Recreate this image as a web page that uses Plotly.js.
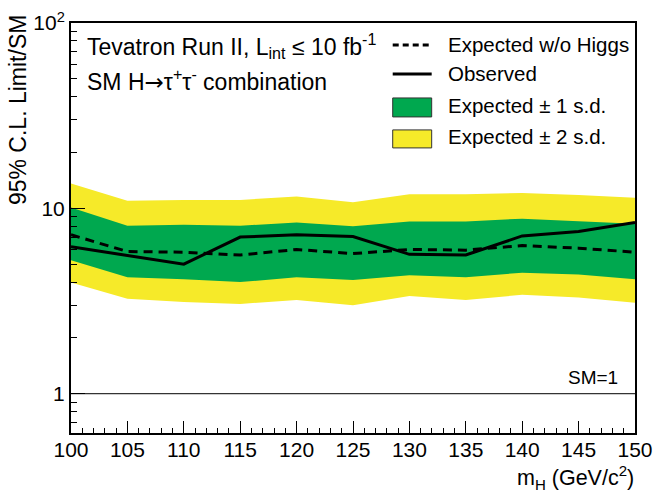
<!DOCTYPE html>
<html>
<head>
<meta charset="utf-8">
<script src="https://cdn.plot.ly/plotly-3.0.1.min.js"></script>
<style>html,body{margin:0;padding:0;background:#fff;}#chart{width:655px;height:493px;}</style>
</head>
<body>
<div id="chart"></div>
<script>
// Higgs mass points (GeV/c^2)
const massPoints = [100, 105, 110, 115, 120, 125, 130, 135, 140, 145, 150];
// 95% C.L. limit / SM
const yellowUpper = [13.6, 11.0, 11.1, 11.1, 11.6, 10.8, 11.9, 11.9, 12.1, 11.8, 11.4];
const greenUpper  = [10.1, 8.05, 8.15, 8.05, 8.4, 8.0, 8.5, 8.5, 8.8, 8.55, 8.25];
const expectedNoHiggs = [7.2, 5.85, 5.8, 5.6, 6.0, 5.7, 6.0, 5.95, 6.3, 6.1, 5.8];
const observed    = [6.2, 5.55, 5.0, 7.0, 7.2, 7.05, 5.65, 5.6, 7.1, 7.5, 8.4];
const greenLower  = [5.25, 4.25, 4.15, 4.0, 4.25, 4.1, 4.35, 4.25, 4.5, 4.4, 4.15];
const yellowLower = [3.98, 3.25, 3.12, 3.05, 3.2, 3.0, 3.37, 3.2, 3.42, 3.3, 3.1];
const xTickVals = [100, 105, 110, 115, 120, 125, 130, 135, 140, 145, 150];
const yTickVals = [1, 10, 100];
const yTickText = ['1', '10', '10<sup>2</sup>'];
const yMinorVals = [0.7, 0.8, 0.9, 2, 3, 4, 5, 6, 7, 8, 9, 20, 30, 40, 50, 60, 70, 80, 90];
const smLevel = 1;

const GREEN = '#00a84f';
const YELLOW = '#f6ea29';
const FONT = 'Liberation Sans, Arial, Helvetica, sans-serif';

const traces = [
  {x: massPoints, y: yellowLower, mode: 'lines', line: {width: 0, color: YELLOW}, showlegend: false, hoverinfo: 'skip'},
  {x: massPoints, y: yellowUpper, mode: 'lines', line: {width: 0, color: YELLOW}, fill: 'tonexty', fillcolor: YELLOW, showlegend: false},
  {x: massPoints, y: greenLower, mode: 'lines', line: {width: 0, color: GREEN}, showlegend: false, hoverinfo: 'skip'},
  {x: massPoints, y: greenUpper, mode: 'lines', line: {width: 0, color: GREEN}, fill: 'tonexty', fillcolor: GREEN, showlegend: false},
  {x: massPoints, y: expectedNoHiggs, mode: 'lines', line: {width: 3, color: '#000', dash: '9px,6px'}, showlegend: false},
  {x: massPoints, y: observed, mode: 'lines', line: {width: 3, color: '#000'}, showlegend: false}
];

const L = 71, T = 23, W = 564.5, H = 410.3;
const px = v => (v - L) / W;
const py = v => 1 - (v - T) / H;

const layout = {
  width: 655, height: 493,
  margin: {l: L, r: 655 - L - W, t: T, b: 493 - T - H, pad: 0},
  paper_bgcolor: '#fff', plot_bgcolor: '#fff',
  font: {family: FONT, size: 20, color: '#000'},
  showlegend: false,
  xaxis: {
    range: [100, 150], tickvals: xTickVals, ticks: 'inside', ticklen: 12, tickwidth: 1, tickcolor: '#000',
    ticklabelstandoff: -3,
    showline: true, linewidth: 2, linecolor: '#000', mirror: true, showgrid: false, zeroline: false,
    tickfont: {size: 21, family: FONT},
    minor: {dtick: 1, tick0: 100, ticks: 'inside', ticklen: 5, tickwidth: 1, tickcolor: '#000', showgrid: false}
  },
  yaxis: {
    type: 'log', range: [-0.212, 2], tickvals: yTickVals, ticktext: yTickText,
    ticks: 'inside', ticklen: 14, tickwidth: 1, tickcolor: '#000',
    showline: true, linewidth: 2, linecolor: '#000', mirror: true, showgrid: false, zeroline: false,
    tickfont: {size: 21, family: FONT},
    minor: {tickmode: 'array', tickvals: yMinorVals, ticks: 'inside', ticklen: 6, tickwidth: 1, tickcolor: '#000', showgrid: false}
  },
  shapes: [
    {type: 'line', xref: 'paper', yref: 'y', x0: 0, x1: 1, y0: smLevel, y1: smLevel, line: {color: '#000', width: 1}},
    {type: 'line', xref: 'paper', yref: 'paper', x0: px(393), x1: px(432), y0: py(45), y1: py(45), line: {color: '#000', width: 3, dash: '6px,4px'}},
    {type: 'line', xref: 'paper', yref: 'paper', x0: px(393), x1: px(432), y0: py(74), y1: py(74), line: {color: '#000', width: 3}},
    {type: 'rect', xref: 'paper', yref: 'paper', x0: px(393), x1: px(432), y0: py(117), y1: py(98), fillcolor: GREEN, line: {color: '#333', width: 1}},
    {type: 'rect', xref: 'paper', yref: 'paper', x0: px(393), x1: px(432), y0: py(148), y1: py(130), fillcolor: YELLOW, line: {color: '#333', width: 1}}
  ],
  annotations: [
    {xref: 'paper', yref: 'paper', x: px(85), y: py(46), xanchor: 'left', yanchor: 'middle', showarrow: false,
     text: 'Tevatron Run II, L<sub>int</sub> ≤ 10 fb<sup>-1</sup>', font: {size: 23}},
    {xref: 'paper', yref: 'paper', x: px(85), y: py(80), xanchor: 'left', yanchor: 'middle', showarrow: false,
     text: 'SM H<span style="font-family:DejaVu Sans">→</span>τ<sup>+</sup>τ<sup>-</sup> combination', font: {size: 23}},
    {xref: 'paper', yref: 'paper', x: px(446), y: py(45), xanchor: 'left', yanchor: 'middle', showarrow: false, text: 'Expected w/o Higgs', font: {size: 20.5}},
    {xref: 'paper', yref: 'paper', x: px(446), y: py(74), xanchor: 'left', yanchor: 'middle', showarrow: false, text: 'Observed', font: {size: 20.5}},
    {xref: 'paper', yref: 'paper', x: px(446), y: py(106), xanchor: 'left', yanchor: 'middle', showarrow: false, text: 'Expected ± 1 s.d.', font: {size: 20.5}},
    {xref: 'paper', yref: 'paper', x: px(446), y: py(137), xanchor: 'left', yanchor: 'middle', showarrow: false, text: 'Expected ± 2 s.d.', font: {size: 20.5}},
    {xref: 'paper', yref: 'paper', x: px(620), y: py(378), xanchor: 'right', yanchor: 'middle', showarrow: false, text: 'SM=1', font: {size: 19}},
    {xref: 'paper', yref: 'paper', x: px(637), y: py(478), xanchor: 'right', yanchor: 'middle', showarrow: false,
     text: 'm<sub>H</sub> (GeV/c<sup>2</sup>)', font: {size: 21.5}},
    {xref: 'paper', yref: 'paper', x: px(18), y: py(13), xanchor: 'center', yanchor: 'top', showarrow: false, textangle: -90,
     text: '95% C.L. Limit/SM', font: {size: 23}}
  ]
};

Plotly.newPlot('chart', traces, layout, {displayModeBar: false, staticPlot: true});
</script>
</body>
</html>
